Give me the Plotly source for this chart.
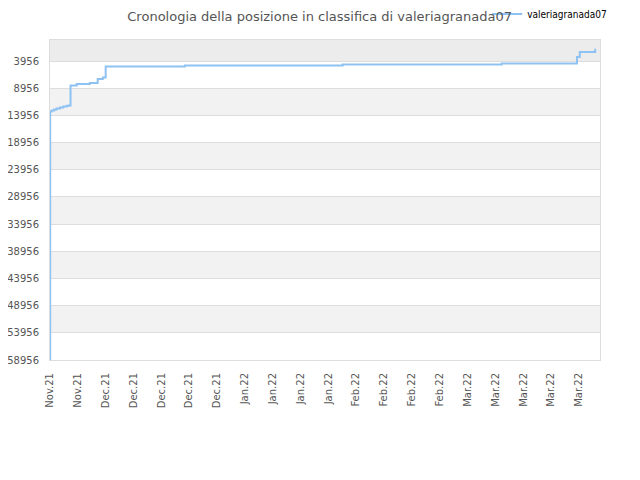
import plotly.graph_objects as go

# ranking history (lower = better)
dates = ["2021-11-17 00:00", "2021-11-17 01:00", "2021-11-17 10:00", "2021-11-18 02:00",
         "2021-11-18 16:00", "2021-11-19 12:00", "2021-11-20 08:00", "2021-11-21 05:00",
         "2021-11-21 19:00", "2021-11-22 04:00", "2021-11-23 17:00", "2021-11-27 00:00",
         "2021-11-29 00:00", "2021-11-30 07:00", "2021-12-01 00:00", "2021-12-20 22:00",
         "2022-01-29 14:00", "2022-03-10 14:00", "2022-03-29 12:00", "2022-03-30 05:00",
         "2022-04-03 02:00", "2022-04-03 07:00"]
ranks = [58956, 13235, 13051, 12867, 12683, 12499, 12315, 12186,
         12130, 8448, 8190, 8006,
         7270, 6975, 4950, 4800,
         4600, 4400, 3220, 2299,
         1876, 1876]

tick_dates = ["2021-11-17", "2021-11-24", "2021-12-01", "2021-12-08", "2021-12-15",
              "2021-12-22", "2021-12-29", "2022-01-05", "2022-01-12", "2022-01-19",
              "2022-01-26", "2022-02-02", "2022-02-09", "2022-02-16", "2022-02-23",
              "2022-03-02", "2022-03-09", "2022-03-16", "2022-03-23", "2022-03-30"]
tick_labels = ["Nov.21", "Nov.21", "Dec.21", "Dec.21", "Dec.21", "Dec.21", "Dec.21",
               "Jan.22", "Jan.22", "Jan.22", "Jan.22", "Feb.22", "Feb.22", "Feb.22",
               "Feb.22", "Mar.22", "Mar.22", "Mar.22", "Mar.22", "Mar.22"]
y_ticks = [3956, 8956, 13956, 18956, 23956, 28956, 33956, 38956, 43956, 48956, 53956, 58956]

y_top = 90
grey = "#555555"

fig = go.Figure()
fig.add_trace(go.Scatter(
    x=dates, y=ranks,
    mode="lines",
    line=dict(color="#8ec2f2", width=2, shape="hv"),
    name="valeriagranada07",
))

# striped background bands
shapes = [dict(type="rect", xref="paper", yref="y", x0=0, x1=1, y0=y_top, y1=y_ticks[0],
               fillcolor="#ececec", line_width=0, layer="below")]
for i in range(1, len(y_ticks) - 1, 2):
    shapes.append(dict(type="rect", xref="paper", yref="y", x0=0, x1=1,
                       y0=y_ticks[i], y1=y_ticks[i + 1],
                       fillcolor="#f2f2f2", line_width=0, layer="below"))

fig.update_layout(
    width=640, height=480,
    margin=dict(l=42, r=48, t=32, b=128, autoexpand=False),
    paper_bgcolor="white", plot_bgcolor="white",
    font=dict(family="DejaVu Sans", size=10, color=grey),
    title=dict(text="Cronologia della posizione in classifica di valeriagranada07",
               x=0.487, xanchor="center", y=0.982, yanchor="middle",
               font=dict(size=13, color=grey)),
    showlegend=True,
    legend=dict(orientation="h", x=0.795, xanchor="left", y=1.081, yanchor="middle",
                bgcolor="white", font=dict(size=10, color="black",
                                           family="DejaVu Sans Condensed"),
                itemwidth=30),
    shapes=shapes,
)
fig.update_xaxes(
    type="date", range=["2021-11-17", "2022-04-04 07:00"],
    tickvals=tick_dates, ticktext=tick_labels, tickangle=-90,
    showgrid=False, zeroline=False,
    showline=True, linecolor="#dddddd", mirror=True,
    ticks="", ticklabelstandoff=8, tickfont=dict(size=10, color=grey),
)
fig.update_yaxes(
    range=[58956, y_top],
    tickvals=y_ticks, ticktext=[str(v) for v in y_ticks],
    showgrid=True, gridcolor="#dddddd", zeroline=False,
    showline=True, linecolor="#dddddd", mirror=True,
    ticks="", ticklabelstandoff=8, tickfont=dict(size=10, color=grey),
)

fig.write_html("out.html")
